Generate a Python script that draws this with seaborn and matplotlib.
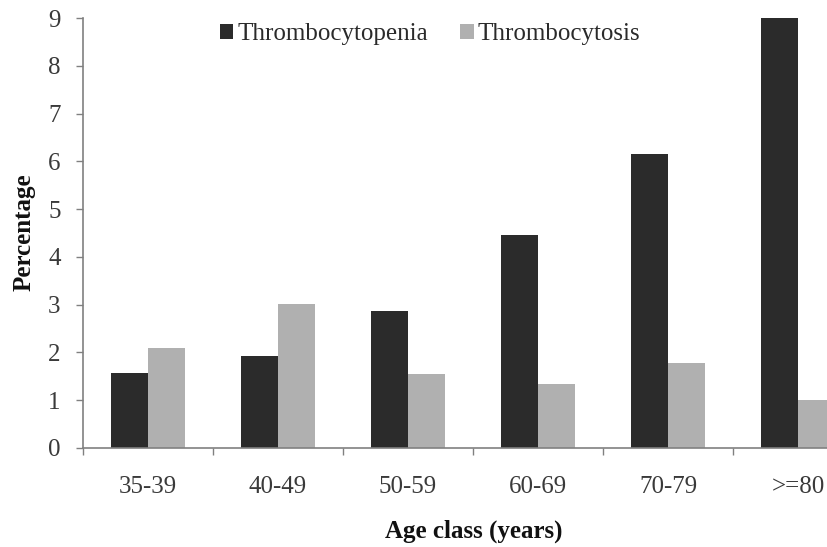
import matplotlib
matplotlib.use("Agg")
import matplotlib.pyplot as plt
import seaborn as sns
import pandas as pd
from matplotlib.ticker import FixedLocator

# Data
age_classes = ["35-39", "40-49", "50-59", "60-69", "70-79", ">=80"]
thrombocytopenia = [1.58, 1.93, 2.87, 4.46, 6.15, 9.0]
thrombocytosis = [2.10, 3.01, 1.55, 1.34, 1.78, 1.00]
series_names = ["Thrombocytopenia", "Thrombocytosis"]
y_ticks = list(range(0, 10))

df = pd.DataFrame({
    "age": age_classes * 2,
    "value": thrombocytopenia + thrombocytosis,
    "series": [series_names[0]] * len(age_classes) + [series_names[1]] * len(age_classes),
})

sns.set_theme(style="white")
plt.rcParams["font.family"] = ["Liberation Serif", "DejaVu Serif"]

FS = 18

fig = plt.figure(figsize=(8.28, 5.47), dpi=100)
ax = fig.add_axes([0.100, 0.181, 0.900, 0.786])

sns.barplot(
    data=df, x="age", y="value", hue="series",
    order=age_classes, hue_order=series_names,
    palette=["#2b2b2b", "#b0b0b0"], width=0.57,
    saturation=1, errorbar=None, linewidth=0, ax=ax,
)

ax.set_ylim(0, 9)
ax.set_xlim(-0.5, 5.23)
ax.set_yticks(y_ticks)

# Excel-style category axis: ticks between categories, labels at centers
ax.xaxis.set_minor_locator(FixedLocator([i - 0.5 for i in range(len(age_classes) + 1)]))
ax.tick_params(axis="x", which="major", length=0, pad=20, labelsize=FS, colors="#3a3a3a")
ax.tick_params(axis="x", which="minor", length=5, width=1, color="#808080", direction="out", bottom=True)
ax.tick_params(axis="y", length=5, width=1, color="#808080", direction="out", left=True,
               labelsize=FS, colors="#3a3a3a", pad=11)

for side in ["top", "right"]:
    ax.spines[side].set_visible(False)
for side in ["left", "bottom"]:
    ax.spines[side].set_color("#808080")
    ax.spines[side].set_linewidth(1.2)

ax.set_xlabel("Age class (years)", fontsize=FS, fontweight="bold", color="#111111")
ax.set_ylabel("Percentage", fontsize=FS, fontweight="bold", color="#111111")
ax.xaxis.set_label_coords(0.524, -0.167)
ax.yaxis.set_label_coords(-0.064, 0.502)

leg = ax.legend(
    loc="upper center", bbox_to_anchor=(0.466, 1.041), ncol=2, frameon=False,
    fontsize=FS, handlelength=0.55, handleheight=0.55, handletextpad=0.15,
    columnspacing=1.3,
)
for t in leg.get_texts():
    t.set_color("#2a2a2a")

fig.savefig("out.png", dpi=100)
